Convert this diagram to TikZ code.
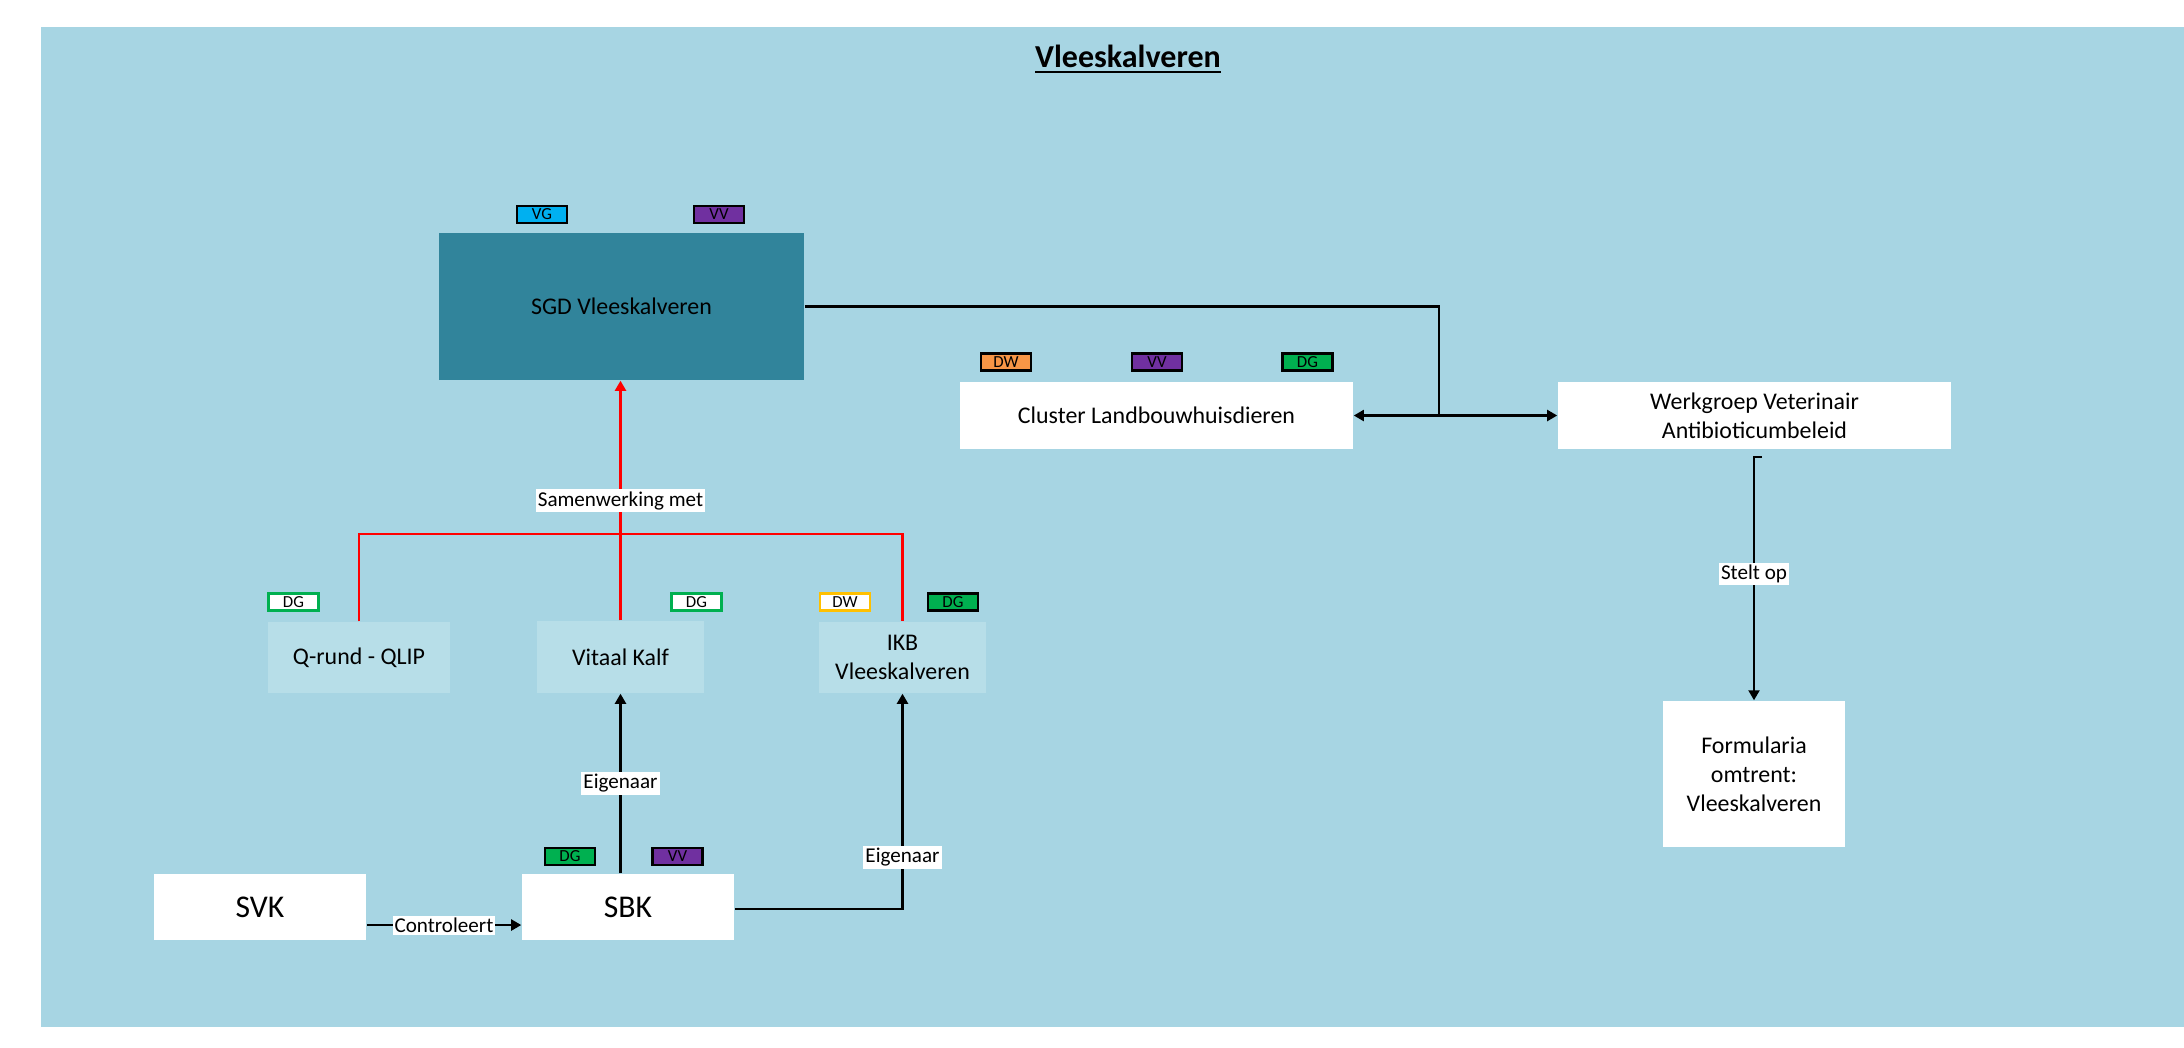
\documentclass[tikz,border=0pt]{standalone}
\usepackage{fontspec}
\setmainfont{Carlito}
\usetikzlibrary{arrows.meta,calc}
\definecolor{bgblue}{HTML}{A7D5E3}
\definecolor{teal}{HTML}{31849B}
\definecolor{lightbox}{HTML}{B7DEE8}
\definecolor{tagcyan}{HTML}{00B0F0}
\definecolor{tagpurple}{HTML}{7030A0}
\definecolor{taggreen}{HTML}{00B050}
\definecolor{tagorange}{HTML}{F79646}
\definecolor{taggold}{HTML}{FFC000}
\tikzset{
  box/.style={fill=white, inner sep=0pt, align=center, font=\fontsize{6.8}{8.2}\selectfont},
  bigbox/.style={box, font=\fontsize{9}{11}\selectfont},
  lbox/.style={box, fill=lightbox},
  tag/.style={draw=black, line width=0.6pt, minimum width=0.5cm, minimum height=0.17cm, inner sep=0pt, font=\fontsize{4.8}{5.5}\selectfont},
  lab/.style={fill=white, inner sep=0.6pt, font=\fontsize{6}{7}\selectfont},
  conn/.style={line width=0.6pt},
  tip/.tip={Triangle[length=0.1cm,width=0.11cm]}
}
\begin{document}
\begin{tikzpicture}[x=0.01cm,y=-0.01cm]
\useasboundingbox (0,0) rectangle (2184,1047);
\fill[bgblue] (41,27) rectangle (2184,1027);
% title
\node[anchor=base, inner sep=0pt, font=\fontsize{9.1}{11}\selectfont\bfseries] (title) at (1128,67) {\underline{Vleeskalveren}};
% main boxes
\node[box, fill=teal, minimum width=3.65cm, minimum height=1.47cm] (sgd) at (621.5,306.5) {SGD Vleeskalveren};
\node[box, minimum width=3.93cm, minimum height=0.67cm] (cluster) at (1156.5,415.5) {Cluster Landbouwhuisdieren};
\node[box, minimum width=3.93cm, minimum height=0.67cm] (werk) at (1754.5,415.5) {Werkgroep Veterinair\\Antibioticumbeleid};
\node[box, minimum width=1.82cm, minimum height=1.46cm] (form) at (1754,774) {Formularia\\omtrent:\\Vleeskalveren};
\node[lbox, minimum width=1.82cm, minimum height=0.71cm] (qrund) at (359,657.5) {Q-rund - QLIP};
\node[lbox, minimum width=1.67cm, minimum height=0.72cm] (vitaal) at (620.5,657) {Vitaal Kalf};
\node[lbox, minimum width=1.67cm, minimum height=0.71cm] (ikb) at (902.5,657.5) {IKB\\Vleeskalveren};
\node[bigbox, minimum width=2.12cm, minimum height=0.66cm] (svk) at (260,907) {SVK};
\node[bigbox, minimum width=2.12cm, minimum height=0.66cm] (sbk) at (628,907) {SBK};
% tags
\node[tag, fill=tagcyan] (tvg) at (542,214.5) {VG};
\node[tag, fill=tagpurple] (tvv1) at (719,214.5) {VV};
\node[tag, fill=tagorange] (tdw1) at (1006,362) {DW};
\node[tag, fill=tagpurple] (tvv2) at (1157,362) {VV};
\node[tag, fill=taggreen] (tdg1) at (1307.5,362) {DG};
\node[tag, fill=white, draw=taggreen] (tdg2) at (293.5,602) {DG};
\node[tag, fill=white, draw=taggreen] (tdg3) at (696.5,602) {DG};
\node[tag, fill=white, draw=taggold] (tdw2) at (845,602) {DW};
\node[tag, fill=taggreen] (tdg4) at (953,602) {DG};
\node[tag, fill=taggreen] (tdg5) at (570,856.5) {DG};
\node[tag, fill=tagpurple] (tvv3) at (677.5,856.5) {VV};
% connectors
\coordinate (redline) at (621,534);
\draw[conn, red] (qrund.north) -- (qrund.north |- redline) -- (ikb.north |- redline) -- (ikb.north);
\draw[conn, red, -tip] (vitaal.north) -- (vitaal.north |- sgd.south) node[lab, pos=0.5, text=black] (lsam) {Samenwerking met};
\coordinate (junc) at (1439,415.5);
\draw[conn] (sgd.east) -| (junc);
\draw[conn, tip-tip] (cluster.east) -- (werk.west);
\coordinate (s0) at (1762,457);
\coordinate (s1) at (1754,457);
\draw[conn, -tip] (s0) -- (s1) -- (form.north) node[lab, pos=0.48] (lstel) {Stelt op};
\draw[conn, -tip] (vitaal.south |- sbk.north) -- (vitaal.south) node[lab, pos=0.5] (leig1) {Eigenaar};
\draw[conn, -tip] ([yshift=-0.02cm]sbk.east) -| (ikb.south) node[lab, pos=0.62] (leig2) {Eigenaar};
\draw[conn, -tip] ([yshift=-0.18cm]svk.east) -- ([yshift=-0.18cm]sbk.west) node[lab, pos=0.5] (lcon) {Controleert};
\end{tikzpicture}
\end{document}
